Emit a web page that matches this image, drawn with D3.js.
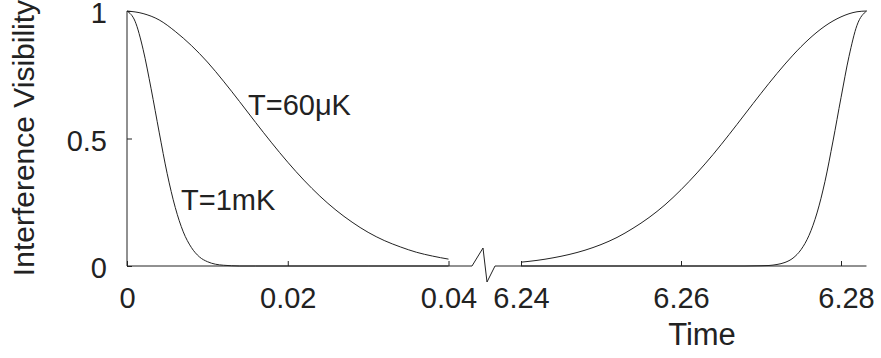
<!DOCTYPE html>
<html>
<head>
<meta charset="utf-8">
<script src="https://cdn.jsdelivr.net/npm/d3@7"></script>
<style>
  body { margin: 0; background: #fff; }
  svg { display: block; font-family: "Liberation Sans", Arial, sans-serif; }
  .tick line { stroke: #222; }
  .tick text { fill: #222; font-size: 29px; }
</style>
</head>
<body>
<svg id="graph" width="881" height="358"></svg>
<script>
// values
const timeLeft60 = [0, 0.002, 0.004, 0.006, 0.008, 0.01, 0.012, 0.014, 0.016, 0.018, 0.02,
  0.022, 0.024, 0.026, 0.028, 0.03, 0.032, 0.034, 0.036, 0.038, 0.04];
const visLeft60 = [1, 0.99, 0.965, 0.92, 0.865, 0.8, 0.725, 0.645, 0.563, 0.483, 0.407,
  0.337, 0.274, 0.219, 0.172, 0.132, 0.1, 0.075, 0.054, 0.039, 0.027];

const timeLeft1 = [0, 0.001, 0.002, 0.003, 0.004, 0.005, 0.006, 0.007, 0.008, 0.009, 0.01,
  0.011, 0.012, 0.013, 0.014, 0.016, 0.02, 0.03, 0.04];
const visLeft1 = [1, 0.96, 0.85, 0.695, 0.525, 0.362, 0.23, 0.134, 0.073, 0.036, 0.017,
  0.007, 0.003, 0.001, 0, 0, 0, 0, 0];

const timeRight60 = [6.24, 6.242, 6.244, 6.246, 6.248, 6.25, 6.252, 6.254, 6.256, 6.258, 6.26,
  6.262, 6.264, 6.266, 6.268, 6.27, 6.272, 6.274, 6.276, 6.278, 6.28, 6.282, 6.2832];
const visRight60 = [0.015, 0.022, 0.032, 0.045, 0.062, 0.084, 0.112, 0.148, 0.19, 0.24, 0.299,
  0.365, 0.437, 0.515, 0.596, 0.677, 0.755, 0.827, 0.89, 0.941, 0.977, 0.997, 1];

const timeRight1 = [6.24, 6.25, 6.26, 6.266, 6.268, 6.27, 6.271, 6.272, 6.273, 6.274, 6.275,
  6.276, 6.277, 6.278, 6.279, 6.28, 6.281, 6.282, 6.2832];
const visRight1 = [0, 0, 0, 0, 0, 0.001, 0.002, 0.006, 0.014, 0.031, 0.064,
  0.12, 0.208, 0.332, 0.49, 0.66, 0.822, 0.944, 1];

const xTicksLeft = [0, 0.02, 0.04];
const xTicksRight = [6.24, 6.26, 6.28];
const yTicks = [0, 0.5, 1];

const graph = d3.select('#graph');

const xLeft = d3.scaleLinear().domain([0, 0.04]).range([127, 448.5]);
const xRight = d3.scaleLinear().domain([6.24, 6.28]).range([521, 841]);
const y = d3.scaleLinear().domain([0, 1]).range([266, 11]);

// y axis
graph.append('g').attr('transform', `translate(${xLeft(0)},0)`)
  .call(d3.axisLeft(y).tickValues(yTicks).tickSizeInner(-5).tickSizeOuter(0)
    .tickPadding(20).tickFormat(d => d))
  .call(g => g.select('.domain').remove())
  .call(g => g.selectAll('.tick text').attr('dy', '0.4em'));

graph.append('line')
  .attr('x1', xLeft(0)).attr('x2', xLeft(0))
  .attr('y1', y(1)).attr('y2', y(0))
  .attr('stroke', '#222');

// x axes (two pieces)
graph.append('g').attr('transform', `translate(0,${y(0)})`)
  .call(d3.axisBottom(xLeft).tickValues(xTicksLeft).tickSizeInner(-5).tickSizeOuter(0)
    .tickPadding(21).tickFormat(d => d))
  .call(g => g.select('.domain').remove());

graph.append('g').attr('transform', `translate(0,${y(0)})`)
  .call(d3.axisBottom(xRight).tickValues(xTicksRight).tickSizeInner(-5).tickSizeOuter(0)
    .tickPadding(21).tickFormat(d => d))
  .call(g => g.select('.domain').remove())
  .call(g => g.selectAll('.tick text').filter(d => d === 6.28).attr('dx', 5));

// axis line with the break mark
const y0 = y(0);
const gapStart = xLeft(0.04) + 23.5;
const gapEnd = xRight(6.24) - 26;
const axisPath = d3.path();
axisPath.moveTo(xLeft(0), y0);
axisPath.lineTo(gapStart, y0);
axisPath.lineTo(gapStart + 11, y0 - 18);
axisPath.lineTo(gapStart + 15, y0 + 16);
axisPath.lineTo(gapEnd, y0);
axisPath.lineTo(xRight(2 * Math.PI), y0);
graph.append('path')
  .attr('d', axisPath.toString())
  .attr('fill', 'none')
  .attr('stroke', '#222');

// curves
function drawCurve(xs, vs, scaleX) {
  const pts = xs.map((t, i) => [t, vs[i]]);
  graph.append('path')
    .datum(pts)
    .attr('fill', 'none')
    .attr('stroke', '#222')
    .attr('stroke-width', 1)
    .attr('d', d3.line().x(d => scaleX(d[0])).y(d => y(d[1])).curve(d3.curveMonotoneX));
}

drawCurve(timeLeft60, visLeft60, xLeft);
drawCurve(timeLeft1, visLeft1, xLeft);
drawCurve(timeRight60, visRight60, xRight);
drawCurve(timeRight1, visRight1, xRight);

// labels
graph.append('text')
  .attr('x', 248).attr('y', 115)
  .attr('font-size', 29).attr('fill', '#222')
  .text('T=60μK');

graph.append('text')
  .attr('x', 181).attr('y', 210)
  .attr('font-size', 29).attr('fill', '#222')
  .text('T=1mK');

graph.append('text')
  .attr('x', 702).attr('y', 345)
  .attr('text-anchor', 'middle')
  .attr('font-size', 31).attr('fill', '#222')
  .text('Time');

graph.append('text')
  .attr('transform', 'translate(34,138) rotate(-90)')
  .attr('text-anchor', 'middle')
  .attr('font-size', 30).attr('fill', '#222')
  .text('Interference Visibility');
</script>
</body>
</html>
